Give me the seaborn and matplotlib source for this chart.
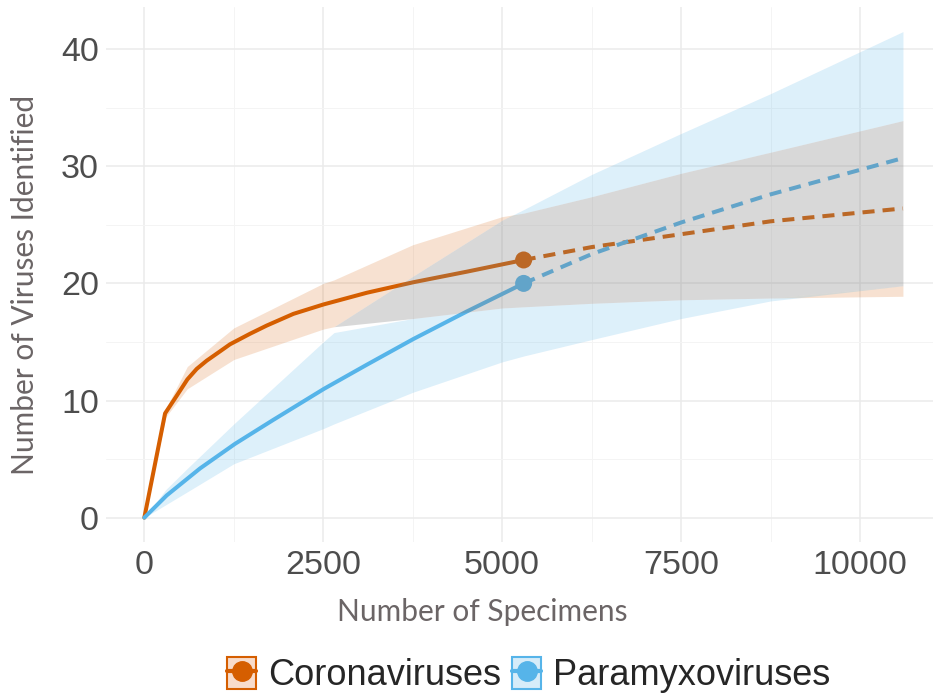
"""
Rarefaction / extrapolation curves for coronaviruses and paramyxoviruses.
"""

import numpy as np
import pandas as pd
import matplotlib

matplotlib.use("Agg")
import matplotlib.pyplot as plt
from matplotlib.lines import Line2D
from matplotlib.patches import Patch
from matplotlib.ticker import MultipleLocator
import seaborn as sns

# ── Data ──────────────────────────────────────────────
families = ["Coronaviruses", "Paramyxoviruses"]

cov_obs_x = [0, 290, 452, 601, 732, 871, 1058, 1197, 1477, 1710, 2083, 2502, 3108, 3760, 4505, 5300]
cov_obs_y = [0, 8.9, 10.4, 11.8, 12.7, 13.4, 14.2, 14.8, 15.7, 16.4, 17.4, 18.2, 19.2, 20.1, 21.0, 22.0]
cov_ext_x = [5300, 6250, 7500, 8750, 10600]
cov_ext_y = [22.0, 23.1, 24.2, 25.3, 26.4]

pmv_obs_x = [0, 313, 778, 1267, 1803, 2511, 3107, 3759, 4505, 5300]
pmv_obs_y = [0, 1.9, 4.2, 6.3, 8.35, 11.0, 13.05, 15.25, 17.6, 20.0]
pmv_ext_x = [5300, 6250, 7500, 8750, 10600]
pmv_ext_y = [20.0, 22.5, 25.2, 27.6, 30.7]

# 95% confidence bands, shared x grid
band_x = [0, 300, 600, 1250, 2500, 2650, 3750, 5000, 5300, 6250, 7500, 8750, 10600]
cov_lo = [0, 8.6, 11.0, 13.5, 16.1, 16.3, 17.0, 17.9, 18.0, 18.3, 18.6, 18.75, 18.9]
cov_hi = [0, 9.3, 12.9, 16.2, 20.0, 20.3, 23.3, 25.7, 26.0, 27.4, 29.4, 31.2, 33.9]
pmv_lo = [0, 1.1, 2.2, 4.6, 7.6, 8.0, 10.7, 13.3, 13.8, 15.2, 17.0, 18.5, 19.8]
pmv_hi = [0, 2.4, 4.2, 8.0, 15.0, 15.8, 20.6, 25.4, 26.3, 29.3, 32.8, 36.2, 41.5]

palette = {"Coronaviruses": "#D55E00", "Paramyxoviruses": "#56B4E9"}

# ── Build tidy frame ──────────────────────────────────
parts = [
    ("Coronaviruses", "Observed", cov_obs_x, cov_obs_y),
    ("Coronaviruses", "Extrapolated", cov_ext_x, cov_ext_y),
    ("Paramyxoviruses", "Observed", pmv_obs_x, pmv_obs_y),
    ("Paramyxoviruses", "Extrapolated", pmv_ext_x, pmv_ext_y),
]
df = pd.concat(
    [pd.DataFrame({"specimens": xs, "viruses": ys, "family": fam, "method": m}) for fam, m, xs, ys in parts],
    ignore_index=True,
)
ends = pd.DataFrame({
    "specimens": [cov_obs_x[-1], pmv_obs_x[-1]],
    "viruses": [cov_obs_y[-1], pmv_obs_y[-1]],
    "family": families,
})

# ── Plot ──────────────────────────────────────────────
sns.set_theme(style="whitegrid")
plt.rcParams["font.family"] = ["Liberation Sans", "DejaVu Sans"]

fig = plt.figure(figsize=(9.33, 6.98), dpi=100)
ax = fig.add_axes([106.4 / 933, 156 / 698, 826.6 / 933, 535 / 698])

bx = np.array(band_x, dtype=float)
clo, chi = np.array(cov_lo), np.array(cov_hi)
plo, phi = np.array(pmv_lo), np.array(pmv_hi)

# exclusive parts of each band, overlap handled separately
ov_lo = np.maximum(clo, plo)
ov_hi = np.maximum(ov_lo, np.minimum(chi, phi))
for lo, hi, olo, ohi, col, a in [
    (clo, chi, plo, phi, palette["Coronaviruses"], 0.18),
    (plo, phi, clo, chi, palette["Paramyxoviruses"], 0.2),
]:
    ax.fill_between(bx, lo, np.clip(olo, lo, hi), color=col, alpha=a, lw=0, zorder=1)
    ax.fill_between(bx, np.clip(ohi, lo, hi), hi, color=col, alpha=a, lw=0, zorder=1)

sns.lineplot(
    data=df, x="specimens", y="viruses", hue="family", style="method",
    palette=palette, dashes={"Observed": "", "Extrapolated": (3, 2)},
    estimator=None, errorbar=None, linewidth=2.9, legend=False, ax=ax, zorder=2,
)
sns.scatterplot(
    data=ends, x="specimens", y="viruses", hue="family", palette=palette,
    s=150, linewidth=0, legend=False, ax=ax, zorder=3,
)

# grey overlap where both bands meet (drawn over lines, mutes them)
ax.fill_between(bx, ov_lo, ov_hi, color="#808080", alpha=0.3, lw=0, zorder=5)

ax.set_xlim(-530, 11020)
ax.set_ylim(-2.08, 43.6)
ax.xaxis.set_major_locator(MultipleLocator(2500))
ax.xaxis.set_minor_locator(MultipleLocator(1250))
ax.yaxis.set_major_locator(MultipleLocator(10))
ax.yaxis.set_minor_locator(MultipleLocator(5))
ax.grid(which="major", color="#EBEBEB", linewidth=1.1)
ax.grid(which="minor", color="#F4F4F4", linewidth=0.7)
ax.set_axisbelow(True)
for s in ax.spines.values():
    s.set_visible(False)

ax.tick_params(which="both", length=0, labelsize=24.5, labelcolor="#4D4D4D")
ax.tick_params(axis="x", pad=5.5)
ax.tick_params(axis="y", pad=5.5)

title_kw = dict(fontsize=21.5, color="#6B6566", family=["Lato", "DejaVu Sans"])
ax.set_xlabel("Number of Specimens", **title_kw)
ax.set_ylabel("Number of Viruses Identified", **title_kw)
ax.xaxis.label.set_va("center")
ax.yaxis.label.set_va("center")
ax.xaxis.set_label_coords(0.4544, -0.1308)
ax.yaxis.set_label_coords(-0.0985, 0.48)

# legend: band key box + point/line
handles = []
for fam, face in [("Coronaviruses", "#F8DCCB"), ("Paramyxoviruses", "#D6ECF9")]:
    col = palette[fam]
    handles.append((
        Patch(facecolor=face, edgecolor=col, linewidth=1.5),
        Line2D([], [], color=col, marker="o", markersize=14, linewidth=3),
    ))
fig.legend(
    handles, families, loc="center", bbox_to_anchor=(0.567, 0.033), ncol=2,
    frameon=False, fontsize=26, handlelength=0.79, handleheight=0.99,
    handletextpad=0.34, columnspacing=0.31, borderpad=0,
)

fig.savefig("out.png", dpi=100)
